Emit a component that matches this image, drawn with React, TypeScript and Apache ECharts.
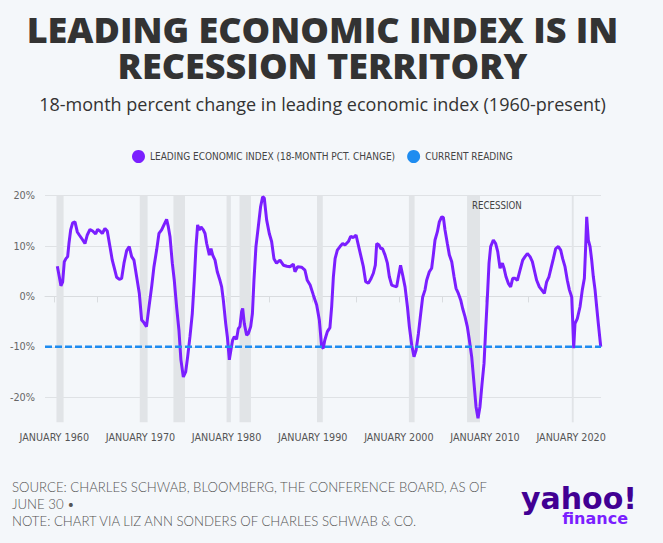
import React, { useEffect, useRef } from "react";
import * as echarts from "echarts";

// 18-month percent change in the leading economic index, by decimal year
const years = [
  1960.35, 1960.58, 1960.77, 1960.97, 1961.16, 1961.35, 1961.55, 1961.7, 1961.9, 1962.13,
  1962.4, 1962.67, 1962.9, 1963.1, 1963.3, 1963.56, 1963.83, 1964.14, 1964.45, 1964.8,
  1965.03, 1965.3, 1965.57, 1965.88, 1966.15, 1966.46, 1966.73, 1966.97, 1967.24, 1967.55,
  1967.82, 1968.09, 1968.4, 1968.7, 1968.98, 1969.25, 1969.56, 1969.87, 1970.14, 1970.4,
  1970.7, 1970.99, 1971.3, 1971.57, 1971.88, 1972.15, 1972.46, 1972.73, 1973.04, 1973.24,
  1973.43, 1973.7, 1973.93, 1974.2, 1974.47, 1974.7, 1974.98, 1975.25, 1975.48, 1975.75,
  1976.02, 1976.25, 1976.45, 1976.64, 1976.83, 1977.03, 1977.3, 1977.5, 1977.69, 1978.0,
  1978.19, 1978.39, 1978.66, 1978.92, 1979.23, 1979.43, 1979.62, 1979.9, 1980.09, 1980.32,
  1980.5, 1980.7, 1980.9, 1981.16, 1981.36, 1981.55, 1981.75, 1981.87, 1982.06, 1982.33,
  1982.52, 1982.8, 1983.0, 1983.18, 1983.41, 1983.68, 1983.95, 1984.19, 1984.38, 1984.65,
  1984.96, 1985.23, 1985.5, 1985.8, 1986.2, 1986.6, 1987.0, 1987.36, 1987.75, 1987.94,
  1988.25, 1988.7, 1989.1, 1989.37, 1989.7, 1990.07, 1990.46, 1990.77, 1991.04, 1991.23,
  1991.4, 1991.7, 1992.0, 1992.2, 1992.4, 1992.6, 1992.86, 1993.17, 1993.48, 1993.75,
  1994.14, 1994.41, 1994.72, 1995.03, 1995.3, 1995.57, 1995.88, 1996.15, 1996.46, 1996.73,
  1997.04, 1997.27, 1997.43, 1997.7, 1997.9, 1998.1, 1998.4, 1998.67, 1998.9, 1999.17,
  1999.48, 1999.75, 1999.95, 2000.2, 2000.45, 2000.72, 2001.0, 2001.22, 2001.5, 2001.76,
  2002.0, 2002.27, 2002.54, 2002.77, 2003.04, 2003.23, 2003.54, 2003.81, 2004.0, 2004.2,
  2004.47, 2004.7, 2004.97, 2005.17, 2005.36, 2005.63, 2005.87, 2006.14, 2006.41, 2006.64,
  2006.91, 2007.18, 2007.41, 2007.68, 2007.95, 2008.19, 2008.46, 2008.73, 2008.96, 2009.19,
  2009.42, 2009.66, 2009.89, 2010.08, 2010.28, 2010.47, 2010.66, 2010.97, 2011.24, 2011.48,
  2011.75, 2012.02, 2012.21, 2012.44, 2012.71, 2012.98, 2013.22, 2013.49, 2013.76, 2014.07,
  2014.38, 2014.65, 2014.92, 2015.23, 2015.5, 2015.73, 2016.0, 2016.31, 2016.58, 2016.89,
  2017.16, 2017.43, 2017.67, 2017.94, 2018.21, 2018.52, 2018.79, 2019.02, 2019.29, 2019.56,
  2019.8, 2020.07, 2020.18, 2020.3, 2020.45, 2020.72, 2021.03, 2021.3, 2021.54, 2021.69,
  2021.81, 2022.0, 2022.2, 2022.39, 2022.58, 2022.78, 2022.97, 2023.16, 2023.36, 2023.44,
];

const leiChange = [
  6.0, 3.9, 2.1, 2.9, 6.9, 7.5, 7.9, 10.5, 13.2, 14.6,
  14.8, 12.8, 12.2, 11.7, 11.2, 10.5, 12.2, 13.3, 13.0, 12.4,
  13.3, 13.0, 12.5, 13.5, 13.0, 9.9, 7.2, 5.6, 3.8, 3.4,
  3.6, 6.6, 9.1, 9.9, 7.9, 7.2, 3.9, 0.6, -4.7, -5.2,
  -6.0, -2.1, 1.9, 5.9, 9.2, 12.5, 13.2, 14.2, 15.3, 13.8,
  11.9, 6.6, 3.2, -2.1, -6.7, -12.6, -16.0, -15.0, -12.0, -8.0,
  -3.4, 3.2, 9.9, 14.2, 13.2, 13.8, 13.2, 12.5, 10.5, 8.2,
  9.5, 8.2, 7.2, 4.9, 3.2, 1.9, -0.7, -5.4, -8.0, -12.6,
  -10.7, -8.7, -8.0, -8.5, -6.4, -6.0, -3.0, -2.4, -5.4, -7.7,
  -7.4, -6.0, -3.4, 3.2, 9.9, 13.8, 17.8, 19.8, 19.5, 15.2,
  12.5, 10.9, 7.5, 6.6, 7.2, 6.2, 6.0, 5.9, 6.4, 4.9,
  5.9, 5.8, 5.2, 3.2, 2.25, 0.3, -1.7, -4.7, -10.0, -10.3,
  -8.7, -7.0, -6.2, -2.1, 3.9, 7.5, 9.2, 9.9, 10.5, 10.2,
  10.9, 11.9, 11.7, 12.2, 10.2, 8.2, 5.9, 2.9, 2.6, 3.4,
  4.6, 6.2, 10.5, 10.2, 9.5, 9.5, 8.2, 6.6, 3.9, 2.25,
  2.05, 1.9, 3.9, 6.2, 4.2, 1.9, -2.1, -6.0, -9.7, -12.0,
  -10.7, -7.4, -3.4, -0.1, 1.3, 3.2, 4.9, 5.6, 8.2, 11.2,
  12.8, 14.8, 15.8, 15.7, 13.2, 10.5, 8.2, 6.9, 3.9, 1.6,
  0.6, -0.7, -2.4, -4.0, -6.0, -8.7, -12.0, -17.3, -21.9, -24.2,
  -21.9, -17.3, -13.3, -6.7, -0.1, 6.6, 9.9, 11.2, 10.5, 8.9,
  5.6, 6.6, 5.6, 3.9, 2.6, 1.9, 3.6, 3.6, 3.2, 5.2,
  7.2, 7.9, 8.5, 7.9, 6.9, 5.2, 3.2, 1.9, 1.3, 0.6,
  2.9, 3.9, 5.6, 7.5, 9.5, 9.9, 9.2, 7.5, 5.9, 3.2,
  1.3, -0.1, -4.7, -10.3, -5.4, -4.4, -2.1, 1.3, 3.6, 9.9,
  15.8, 11.2, 9.9, 7.2, 3.9, 1.3, -2.1, -5.4, -8.7, -10.0,
];

// NBER recessions (decimal years)
const recessionStarts = [1960.25, 1969.92, 1973.83, 1980.0, 1981.5, 1990.5, 2001.17, 2007.92, 2020.08];
const recessionEnds = [1961.08, 1970.83, 1975.17, 1980.5, 1982.83, 1991.17, 2001.83, 2009.42, 2020.3];
const labelledRecession = 7;

const currentReading = -10;
const axisStart = 1958.92;
const axisEnd = 2023.47;
const tickYears = [1960, 1965, 1970, 1975, 1980, 1985, 1990, 1995, 2000, 2005, 2010, 2015, 2020];
const labelYears = [1960, 1970, 1980, 1990, 2000, 2010, 2020];
const yMin = -25;
const yMax = 20;

const titleLines = ["LEADING ECONOMIC INDEX IS IN", "RECESSION TERRITORY"];
const subtitle = "18-month percent change in leading economic index (1960-present)";
const footerLines = [
  "SOURCE: CHARLES SCHWAB, BLOOMBERG, THE CONFERENCE BOARD, AS OF",
  "JUNE 30 \u2022",
  "NOTE: CHART VIA LIZ ANN SONDERS OF CHARLES SCHWAB & CO.",
];
const seriesNames = ["LEADING ECONOMIC INDEX (18-MONTH PCT. CHANGE)", "CURRENT READING"];

const BG = "#f4f7fa";
const PURPLE = "#7b1fff";
const BLUE = "#1e8cf0";
const NARROW = "'Liberation Sans Narrow', 'DejaVu Sans Condensed', sans-serif";

export default function App() {
  const ref = useRef<HTMLDivElement>(null);

  useEffect(() => {
    document.body.style.margin = "0";
    document.body.style.background = BG;
    if (!ref.current) return;
    const chart = echarts.init(ref.current, undefined, { renderer: "svg" });

    const lineData = years.map((y, i) => [y, leiChange[i]]);
    const bands = recessionStarts.map((s, i) => {
      const start: any = { xAxis: s };
      if (i === labelledRecession) {
        start.name = "RECESSION";
        start.label = {
          show: true,
          position: "insideTopLeft",
          distance: 5,
          formatter: "RECESSION",
          color: "#444",
          fontSize: 9.6,
          fontFamily: NARROW,
        };
      }
      return [start, { xAxis: recessionEnds[i] }];
    });

    chart.setOption({
      animation: false,
      backgroundColor: BG,
      grid: { left: 45, right: 62, top: 195.7, bottom: 120.7, containLabel: false },
      legend: {
        left: 127,
        top: 145,
        itemWidth: 13,
        itemHeight: 13,
        itemGap: 12,
        data: seriesNames.map((n) => ({ name: n, icon: "circle" })),
        textStyle: { color: "#444", fontSize: 10, fontFamily: NARROW },
      },
      xAxis: {
        type: "value",
        min: axisStart,
        max: axisEnd,
        axisLine: { show: true, lineStyle: { color: "#d9dcdf", width: 1 } },
        axisTick: { show: true, customValues: tickYears, length: 6, lineStyle: { color: "#d9dcdf" } },
        axisLabel: {
          customValues: labelYears,
          formatter: (v: number) => "JANUARY " + Math.round(v),
          color: "#555",
          fontSize: 10.7,
          fontFamily: NARROW,
          margin: 10,
        },
        splitLine: { show: false },
      },
      yAxis: {
        type: "value",
        min: yMin,
        max: yMax,
        interval: 5,
        axisLine: { show: false },
        axisTick: { show: false },
        axisLabel: {
          formatter: (v: number) => (v % 10 === 0 && v !== yMin ? v + "%" : ""),
          color: "#666",
          fontSize: 10.8,
          fontFamily: NARROW,
          margin: 10,
        },
        splitLine: { show: true, lineStyle: { color: ["rgba(0,0,0,0)", "#dfe2e5"], width: 1 } },
      },
      series: [
        {
          name: seriesNames[0],
          type: "line",
          data: lineData,
          showSymbol: false,
          symbol: "none",
          lineStyle: { color: PURPLE, width: 3 },
          itemStyle: { color: PURPLE },
          z: 3,
          markArea: {
            silent: true,
            itemStyle: { color: "#e1e4e7" },
            data: bands,
          },
        },
        {
          name: seriesNames[1],
          type: "line",
          data: [
            [axisStart, currentReading],
            [axisEnd, currentReading],
          ],
          showSymbol: false,
          symbol: "none",
          lineStyle: { color: BLUE, width: 2.5, type: [7, 3] },
          itemStyle: { color: BLUE },
          z: 4,
        },
      ],
      graphic: [
        {
          type: "text",
          x: 322.5,
          y: 47,
          style: {
            text: titleLines.join("\n"),
            fill: "#333",
            font: "800 36px 'Open Sans', sans-serif",
            lineHeight: 36,
            textAlign: "center",
            textVerticalAlign: "middle",
          },
        },
        {
          type: "text",
          x: 322.5,
          y: 104,
          style: {
            text: subtitle,
            fill: "#333",
            font: "18px 'Open Sans', sans-serif",
            textAlign: "center",
            textVerticalAlign: "middle",
          },
        },
        {
          type: "text",
          x: 12,
          y: 504,
          style: {
            text: footerLines.join("\n"),
            fill: "#555",
            font: "300 13.2px Lato, sans-serif",
            lineHeight: 17,
            textAlign: "left",
            textVerticalAlign: "middle",
          },
        },
        {
          type: "text",
          x: 637,
          y: 506,
          style: {
            text: "{a|yahoo!}\n{b|finance}",
            textAlign: "right",
            textVerticalAlign: "middle",
            rich: {
              a: {
                fill: "#410093",
                font: "bold 30px 'DejaVu Sans', sans-serif",
                lineHeight: 24,
              },
              b: {
                fill: PURPLE,
                font: "bold 16px 'DejaVu Sans', sans-serif",
                lineHeight: 16,
                padding: [0, 9, 0, 0],
              },
            },
          },
        },
      ],
    });

    return () => chart.dispose();
  }, []);

  return <div ref={ref} style={{ width: 663, height: 543, background: BG }} />;
}
